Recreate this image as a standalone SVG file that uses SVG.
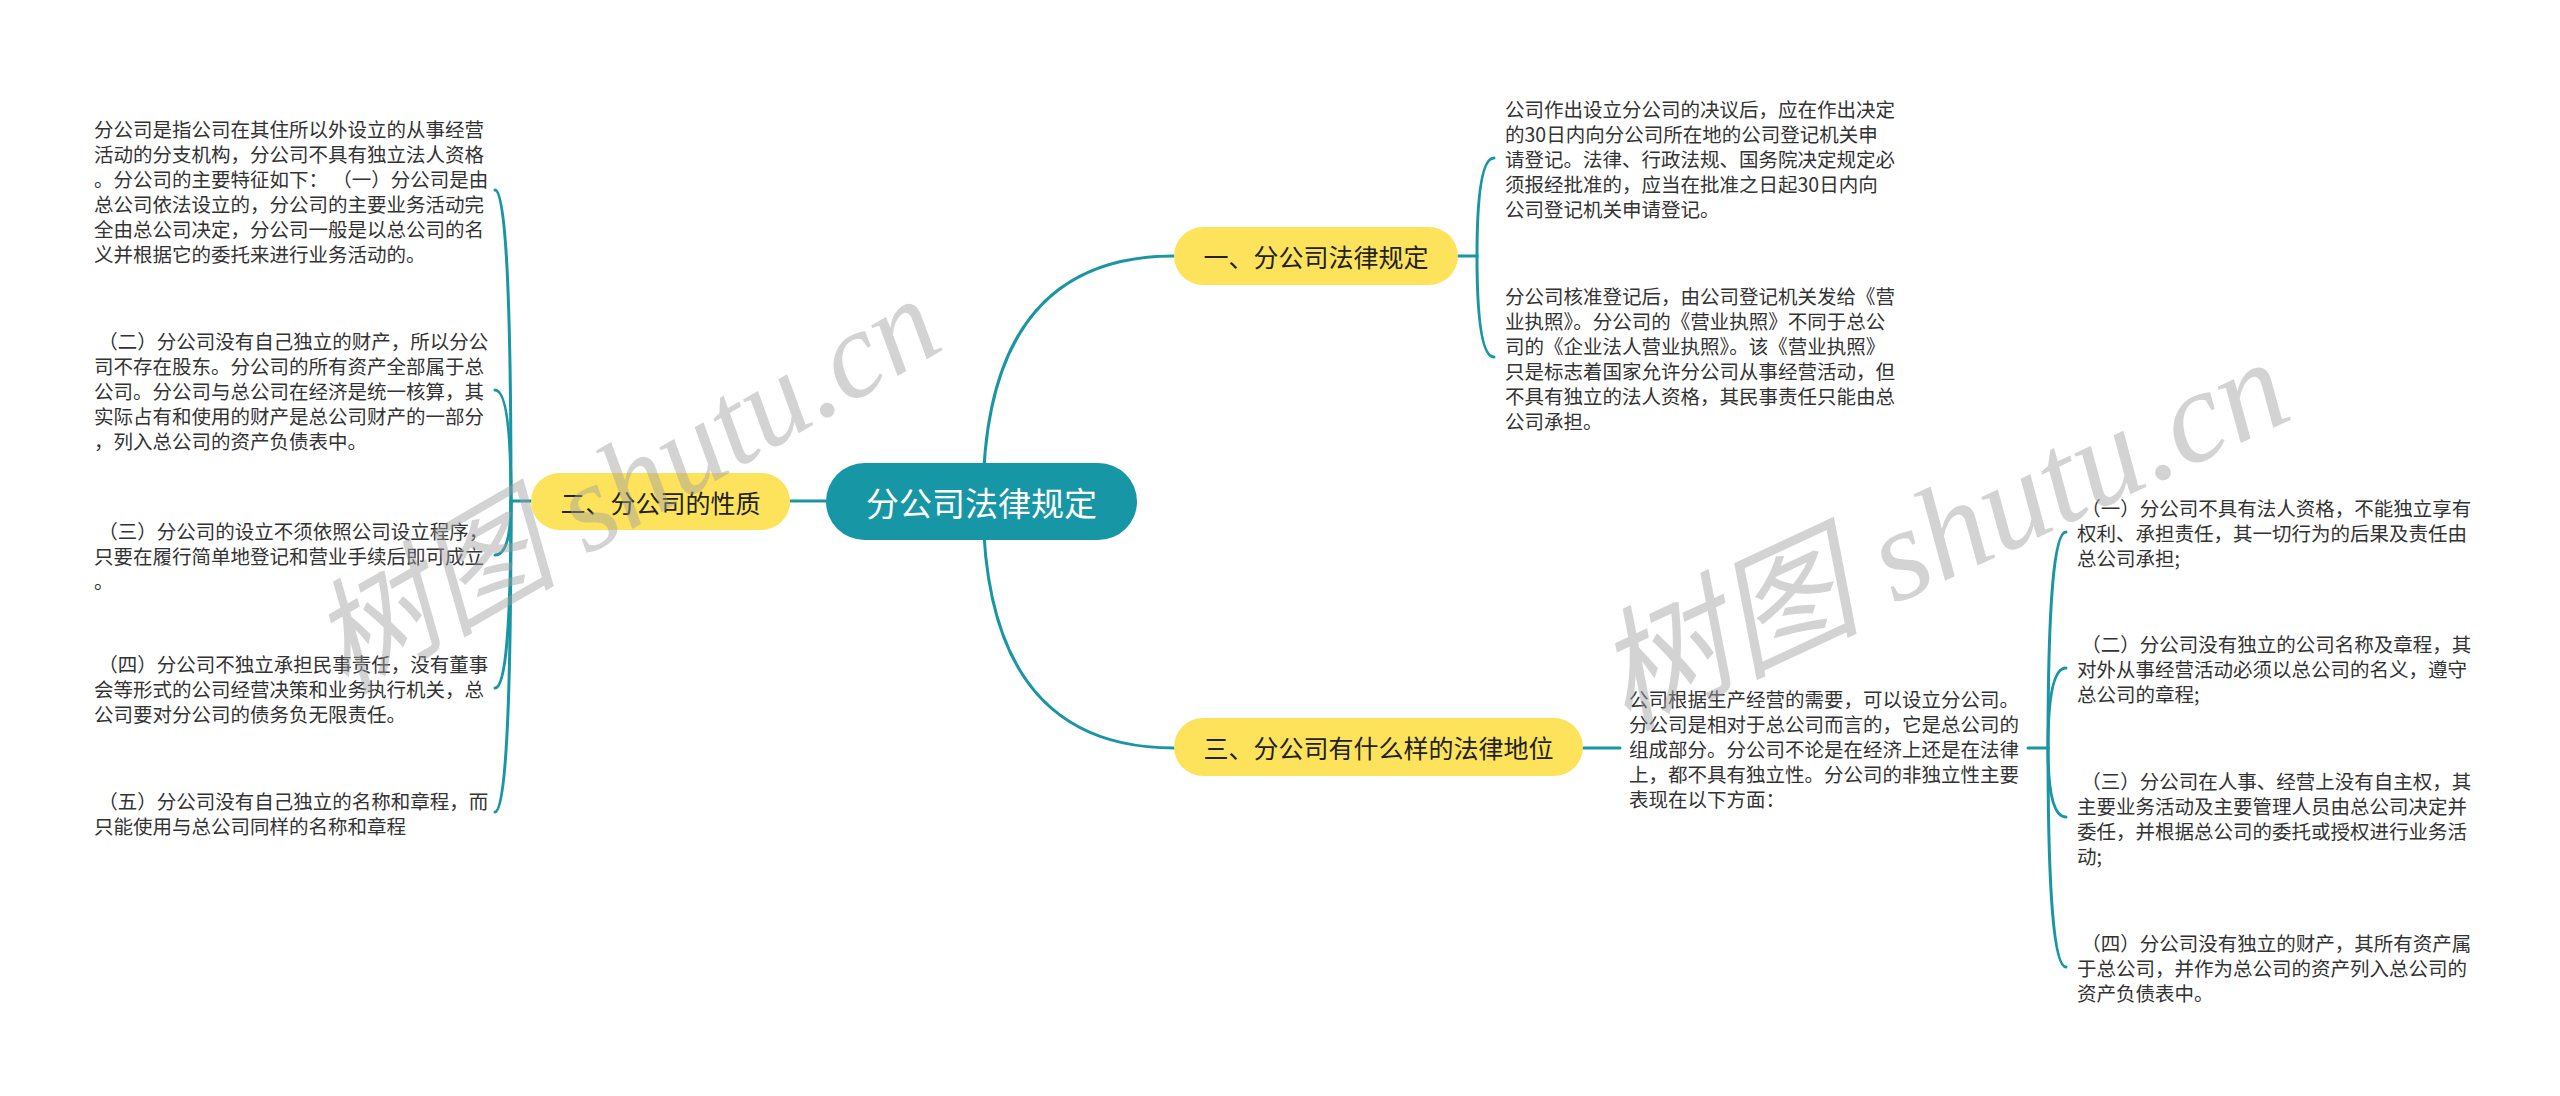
<svg xmlns="http://www.w3.org/2000/svg" width="2560" height="1096" viewBox="0 0 2560 1096">
<style>
.bg{fill:#ffffff}
.root{fill:#1797a6}
.main{fill:#fde35c}
.rt{font-family:"Noto Sans CJK SC","Noto Sans",sans-serif;font-size:33px;fill:#ffffff;text-anchor:middle;dominant-baseline:central}
.mt{font-family:"Noto Sans CJK SC","Noto Sans",sans-serif;font-size:25px;fill:#222222;text-anchor:middle;dominant-baseline:central}
.tx{font-family:"Noto Sans CJK SC","Noto Sans",sans-serif;font-size:19.5px;fill:#333333;dominant-baseline:central}
.ln{fill:none;stroke:#1a95a4;stroke-width:3;stroke-linecap:round}
.wm{font-family:"Liberation Serif","Noto Sans CJK SC",serif;font-style:italic;fill:#a0a0a0;opacity:0.45}
</style>
<rect class="bg" x="0" y="0" width="2560" height="1096"/>
<g id="connectors">
  <path class="ln" d="M983,501 Q983,256 1174,256"/>
  <path class="ln" d="M983,501 Q983,748 1174,748"/>
  <path class="ln" d="M790,501 H826"/>
  <path class="ln" d="M531,501 H511"/>
  <path class="ln" d="M511,501 Q511,190 495,190"/>
  <path class="ln" d="M511,501 Q511,390 495,390"/>
  <path class="ln" d="M511,501 Q511,555 495,555"/>
  <path class="ln" d="M511,501 Q511,688 495,688"/>
  <path class="ln" d="M511,501 Q511,812 495,812"/>
  <path class="ln" d="M1458,256 H1477"/>
  <path class="ln" d="M1477,256 Q1477,158 1494,158"/>
  <path class="ln" d="M1477,256 Q1477,357 1494,357"/>
  <path class="ln" d="M1583,748 H1620"/>
  <path class="ln" d="M2028,748 H2048"/>
  <path class="ln" d="M2048,748 Q2048,532 2066,532"/>
  <path class="ln" d="M2048,748 Q2048,668 2066,668"/>
  <path class="ln" d="M2048,748 Q2048,817 2066,817"/>
  <path class="ln" d="M2048,748 Q2048,967 2066,967"/>
</g>
<g id="root">
  <rect class="root" x="826" y="463" width="311" height="77" rx="38.5"/>
  <text class="rt" x="981.5" y="501.5">分公司法律规定</text>
</g>
<g id="n1">
  <rect class="main" x="1174" y="227" width="284" height="58" rx="29"/>
  <text class="mt" x="1316" y="256">一、分公司法律规定</text>
</g>
<g id="n2">
  <rect class="main" x="531" y="473" width="259" height="57" rx="28.5"/>
  <text class="mt" x="660.5" y="501.5">二、分公司的性质</text>
</g>
<g id="n3">
  <rect class="main" x="1174" y="718" width="409" height="58" rx="29"/>
  <text class="mt" x="1378.5" y="747">三、分公司有什么样的法律地位</text>
</g>
<g id="n2c1">
  <text class="tx" x="94" y="128">分公司是指公司在其住所以外设立的从事经营</text>
  <text class="tx" x="94" y="153">活动的分支机构，分公司不具有独立法人资格</text>
  <text class="tx" x="94" y="178">。分公司的主要特征如下： （一）分公司是由</text>
  <text class="tx" x="94" y="203">总公司依法设立的，分公司的主要业务活动完</text>
  <text class="tx" x="94" y="228">全由总公司决定，分公司一般是以总公司的名</text>
  <text class="tx" x="94" y="253">义并根据它的委托来进行业务活动的。</text>
</g>
<g id="n2c2">
  <text class="tx" x="94" y="340" xml:space="preserve"> （二）分公司没有自己独立的财产，所以分公</text>
  <text class="tx" x="94" y="365">司不存在股东。分公司的所有资产全部属于总</text>
  <text class="tx" x="94" y="390">公司。分公司与总公司在经济是统一核算，其</text>
  <text class="tx" x="94" y="415">实际占有和使用的财产是总公司财产的一部分</text>
  <text class="tx" x="94" y="440">，列入总公司的资产负债表中。</text>
</g>
<g id="n2c3">
  <text class="tx" x="94" y="530" xml:space="preserve"> （三）分公司的设立不须依照公司设立程序，</text>
  <text class="tx" x="94" y="555">只要在履行简单地登记和营业手续后即可成立</text>
  <text class="tx" x="94" y="580">。</text>
</g>
<g id="n2c4">
  <text class="tx" x="94" y="663" xml:space="preserve"> （四）分公司不独立承担民事责任，没有董事</text>
  <text class="tx" x="94" y="688">会等形式的公司经营决策和业务执行机关，总</text>
  <text class="tx" x="94" y="713">公司要对分公司的债务负无限责任。</text>
</g>
<g id="n2c5">
  <text class="tx" x="94" y="800" xml:space="preserve"> （五）分公司没有自己独立的名称和章程，而</text>
  <text class="tx" x="94" y="825">只能使用与总公司同样的名称和章程</text>
</g>
<g id="n1c1">
  <text class="tx" x="1505" y="108">公司作出设立分公司的决议后，应在作出决定</text>
  <text class="tx" x="1505" y="133">的30日内向分公司所在地的公司登记机关申</text>
  <text class="tx" x="1505" y="158">请登记。法律、行政法规、国务院决定规定必</text>
  <text class="tx" x="1505" y="183">须报经批准的，应当在批准之日起30日内向</text>
  <text class="tx" x="1505" y="208">公司登记机关申请登记。</text>
</g>
<g id="n1c2">
  <text class="tx" x="1505" y="295">分公司核准登记后，由公司登记机关发给《营</text>
  <text class="tx" x="1505" y="320">业执照》。分公司的《营业执照》不同于总公</text>
  <text class="tx" x="1505" y="345">司的《企业法人营业执照》。该《营业执照》</text>
  <text class="tx" x="1505" y="370">只是标志着国家允许分公司从事经营活动，但</text>
  <text class="tx" x="1505" y="395">不具有独立的法人资格，其民事责任只能由总</text>
  <text class="tx" x="1505" y="420">公司承担。</text>
</g>
<g id="n3c1">
  <text class="tx" x="1629" y="698">公司根据生产经营的需要，可以设立分公司。</text>
  <text class="tx" x="1629" y="723">分公司是相对于总公司而言的，它是总公司的</text>
  <text class="tx" x="1629" y="748">组成部分。分公司不论是在经济上还是在法律</text>
  <text class="tx" x="1629" y="773">上，都不具有独立性。分公司的非独立性主要</text>
  <text class="tx" x="1629" y="798">表现在以下方面：</text>
</g>
<g id="n3c1a">
  <text class="tx" x="2077" y="507" xml:space="preserve"> （一）分公司不具有法人资格，不能独立享有</text>
  <text class="tx" x="2077" y="532">权利、承担责任，其一切行为的后果及责任由</text>
  <text class="tx" x="2077" y="557">总公司承担;</text>
</g>
<g id="n3c1b">
  <text class="tx" x="2077" y="643" xml:space="preserve"> （二）分公司没有独立的公司名称及章程，其</text>
  <text class="tx" x="2077" y="668">对外从事经营活动必须以总公司的名义，遵守</text>
  <text class="tx" x="2077" y="693">总公司的章程;</text>
</g>
<g id="n3c1c">
  <text class="tx" x="2077" y="780" xml:space="preserve"> （三）分公司在人事、经营上没有自主权，其</text>
  <text class="tx" x="2077" y="805">主要业务活动及主要管理人员由总公司决定并</text>
  <text class="tx" x="2077" y="830">委任，并根据总公司的委托或授权进行业务活</text>
  <text class="tx" x="2077" y="855">动;</text>
</g>
<g id="n3c1d">
  <text class="tx" x="2077" y="942" xml:space="preserve"> （四）分公司没有独立的财产，其所有资产属</text>
  <text class="tx" x="2077" y="967">于总公司，并作为总公司的资产列入总公司的</text>
  <text class="tx" x="2077" y="992">资产负债表中。</text>
</g>
<g id="watermark">
  <text class="wm" font-size="124" transform="translate(345,695) rotate(-30)">树图 shutu.cn</text>
  <text class="wm" font-size="132" transform="translate(1625,730) rotate(-25)">树图 shutu.cn</text>
</g>
</svg>
